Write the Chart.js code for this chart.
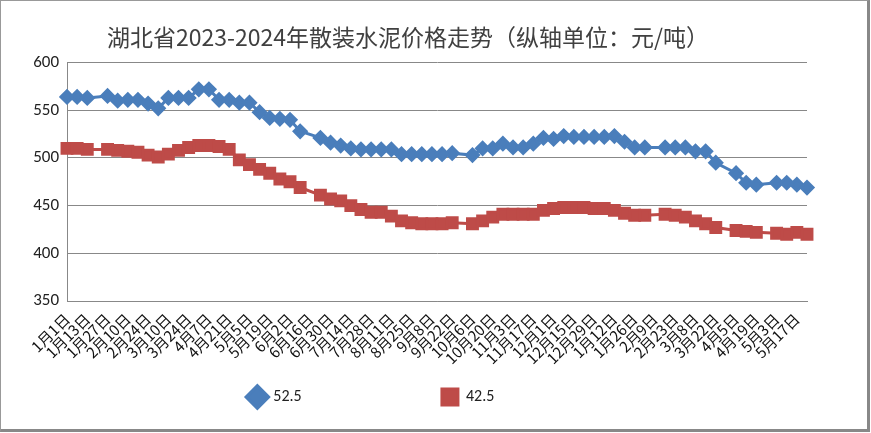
<!DOCTYPE html>
<html>
<head>
<meta charset="utf-8">
<script src="https://cdn.jsdelivr.net/npm/chart.js@4"></script>
<style>
  body { margin: 0; background: #fff; }
  #wrap { width: 866px; height: 428px; border: 1px solid #999; border-right: 3px solid #888; border-bottom: 3px solid #888; position: relative; }
</style>
</head>
<body>
<div id="wrap"><canvas id="c"></canvas></div>
<script>
// 横轴日期（每周）
const labels = ['1月1日','1月6日','1月13日','1月20日','1月27日','2月3日','2月10日','2月17日','2月24日','3月3日',
  '3月10日','3月17日','3月24日','3月31日','4月7日','4月14日','4月21日','4月28日','5月5日','5月12日',
  '5月19日','5月26日','6月2日','6月9日','6月16日','6月23日','6月30日','7月7日','7月14日','7月21日',
  '7月28日','8月4日','8月11日','8月18日','8月25日','9月1日','9月8日','9月15日','9月22日','9月29日',
  '10月6日','10月13日','10月20日','10月27日','11月3日','11月10日','11月17日','11月24日','12月1日','12月8日',
  '12月15日','12月22日','12月29日','1月5日','1月12日','1月19日','1月26日','2月2日','2月9日','2月16日',
  '2月23日','3月1日','3月8日','3月15日','3月22日','3月29日','4月5日','4月12日','4月19日','4月26日',
  '5月3日','5月10日','5月17日','5月24日'];

// 52.5 散装水泥
const p525 = [564,564,563,null,565,560,561,561,557,552,
  563,563,563,572,572,561,561,558,558,548,
  542,541,540,528,null,521,516,513,510,509,
  509,509,509,504,504,504,504,504,505,null,
  503,510,510,515,511,511,515,521,520,523,
  522,522,522,522,523,517,511,511,null,511,
  511,511,507,507,495,null,484,474,472,null,
  474,474,472,469];

// 42.5 散装水泥
const p425 = [510,510,509,null,509,508,507,506,503,501,
  504,508,511,513,513,512,509,498,493,488,
  484,478,475,469,null,461,457,455,450,446,
  443,443,439,434,432,431,431,431,432,null,
  431,434,438,441,441,441,441,445,447,448,
  448,448,447,447,445,442,440,440,null,441,
  440,438,434,431,427,null,424,423,422,null,
  421,420,422,420];

const yTicks = [350, 400, 450, 500, 550, 600];

new Chart(document.getElementById('c'), {
  type: 'line',
  data: {
    labels: labels,
    datasets: [
      {
        label: '52.5                                    ',
        data: p525,
        borderColor: '#4a7ebb',
        backgroundColor: '#4a7ebb',
        borderWidth: 3,
        pointStyle: 'rectRot',
        pointRadius: 6,
        spanGaps: true,
        tension: 0
      },
      {
        label: '42.5                    ',
        data: p425,
        borderColor: '#be4b48',
        backgroundColor: '#be4b48',
        borderWidth: 3,
        pointStyle: 'rect',
        pointRadius: 7,
        spanGaps: true,
        tension: 0
      }
    ]
  },
  options: {
    responsive: true,
    maintainAspectRatio: false,
    animation: false,
    layout: { padding: { left: 8, right: 60, top: 4, bottom: 14 } },
    plugins: {
      title: {
        display: true,
        text: '湖北省2023-2024年散装水泥价格走势（纵轴单位：元/吨）',
        color: '#404040',
        font: { family: '"Noto Sans CJK SC"', size: 23, weight: 'normal' },
        padding: { top: 18, bottom: 12 }
      },
      legend: {
        position: 'bottom',
        labels: {
          usePointStyle: true,
          color: '#222',
          font: { family: 'Calibri, Carlito, "Liberation Sans"', size: 16 },
          padding: 10
        }
      },
      tooltip: { enabled: false }
    },
    scales: {
      x: {
        grid: { display: false, drawTicks: true, tickLength: 6 },
        border: { color: '#888' },
        afterFit: function(axis) { axis.height = 78; },
        ticks: {
          autoSkip: false,
          minRotation: 45,
          maxRotation: 45,
          color: '#111',
          font: { family: '"Noto Sans CJK SC"', size: 15 },
          callback: function(v, i) { return i % 2 === 0 ? labels[i] : ''; }
        }
      },
      y: {
        min: 350,
        max: 600,
        afterBuildTicks: function(axis) { axis.ticks = yTicks.map(v => ({ value: v })); },
        afterFit: function(axis) { axis.width = 58; },
        grid: { color: '#888', drawTicks: false },
        border: { color: '#888' },
        ticks: {
          autoSkip: false,
          color: '#222',
          padding: 8,
          font: { family: 'Calibri, Carlito, "Liberation Sans"', size: 17 }
        }
      }
    }
  }
});
</script>
</body>
</html>
